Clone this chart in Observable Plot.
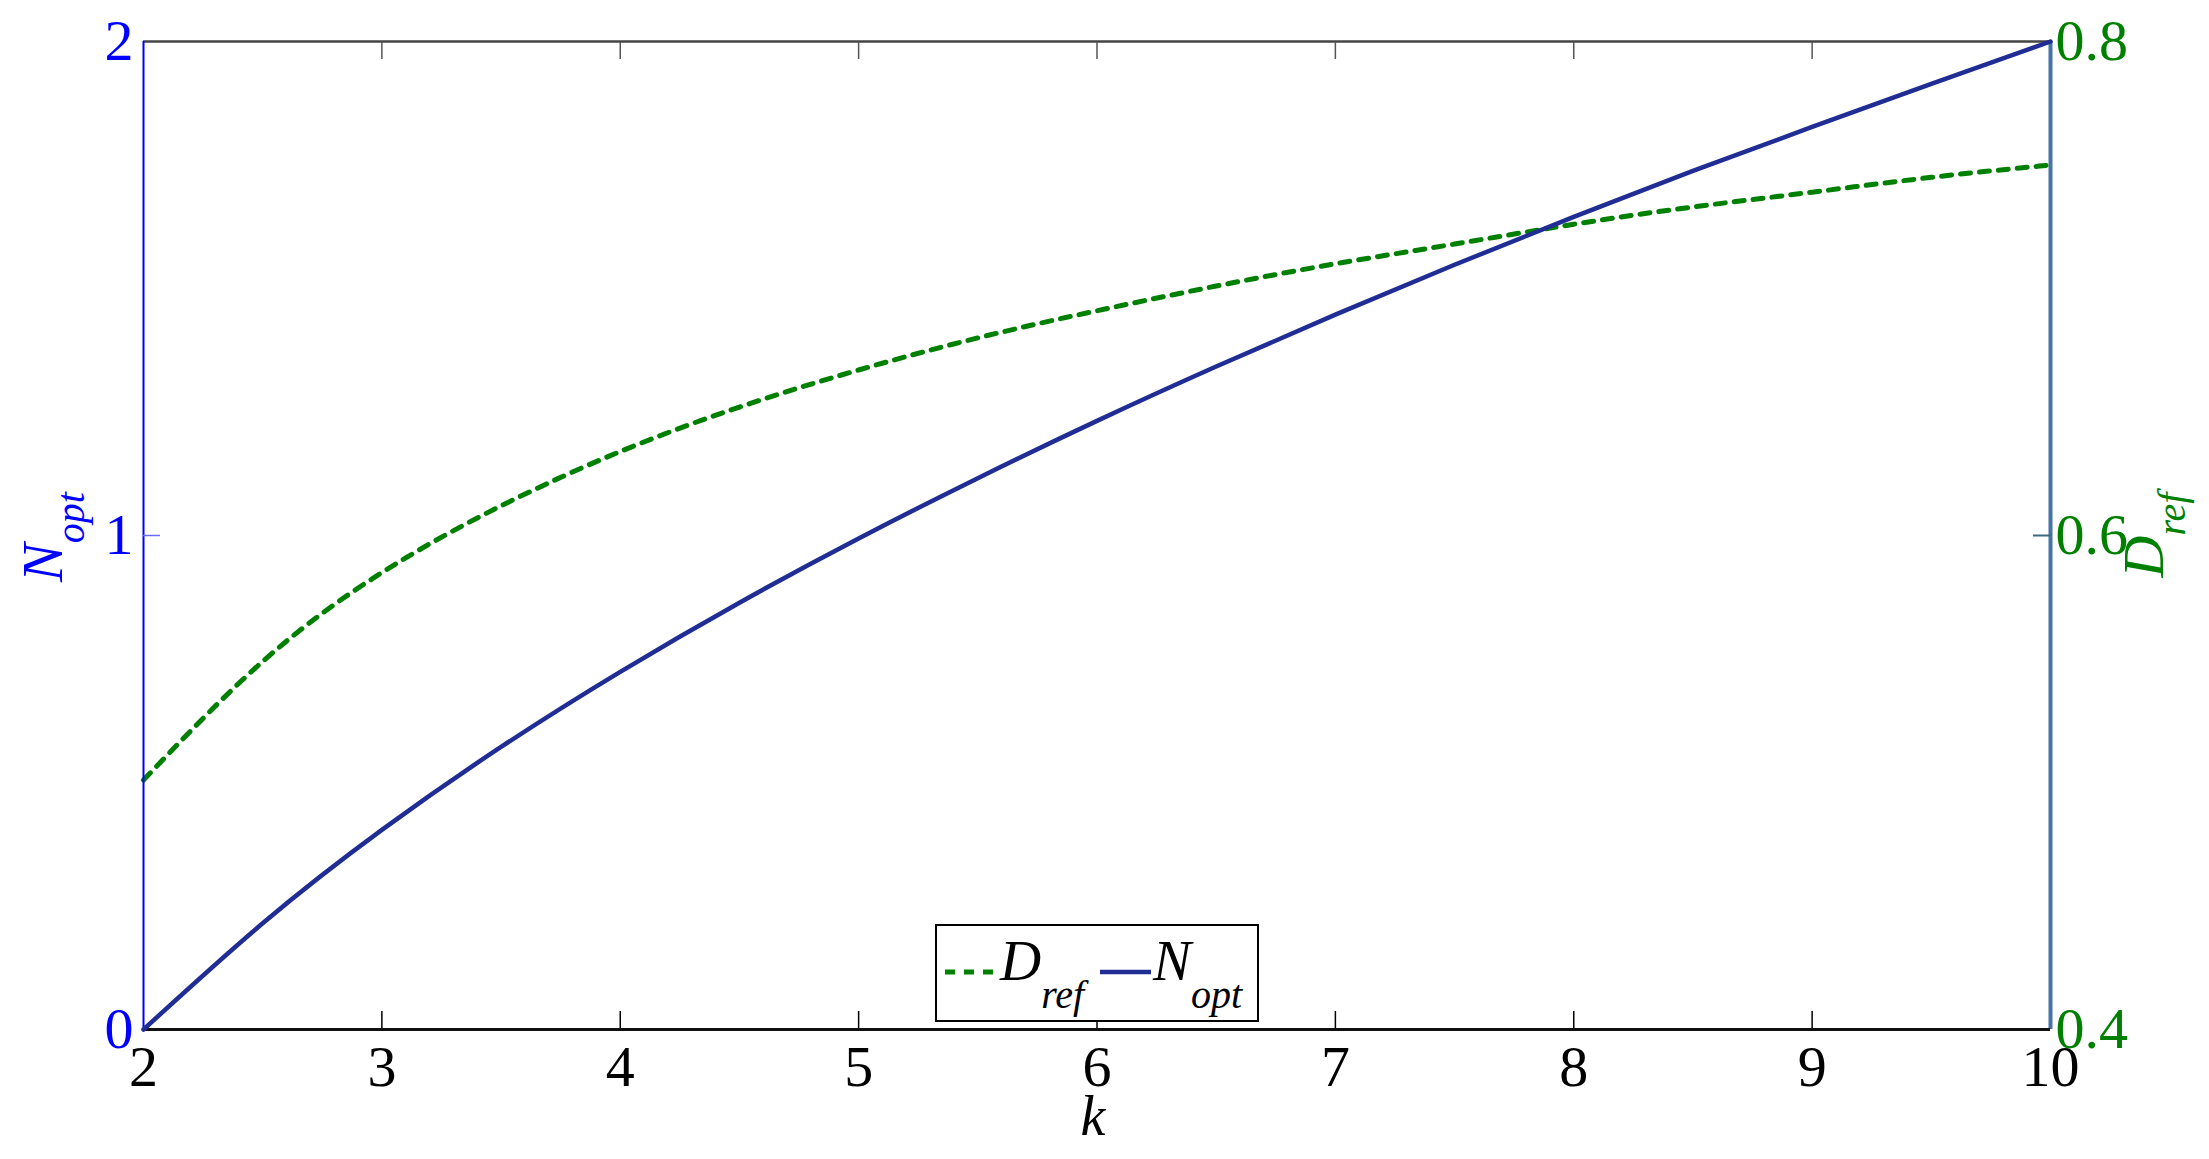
<!DOCTYPE html>
<html><head><meta charset="utf-8">
<script src="https://cdn.jsdelivr.net/npm/d3@7"></script>
<script src="https://cdn.jsdelivr.net/npm/@observablehq/plot@0.6"></script>
<style>
body{margin:0;background:#fff;}
#chart{position:relative;width:2209px;height:1159px;background:#fff;}
#chart svg{position:absolute;left:0;top:0;}
</style></head><body><div id="chart"></div>
<script>
// ---- data ----
const kValues = [2, 2.5, 3, 3.5, 4, 4.5, 5, 5.5, 6, 6.5, 7, 7.5, 8, 8.5, 9, 9.5, 10];
const Nopt    = [0, 0.215, 0.404, 0.572, 0.724, 0.864, 0.994, 1.116, 1.232, 1.342, 1.447, 1.548, 1.645, 1.738, 1.827, 1.914, 2.0];
const Dref    = [0.501, 0.549, 0.585, 0.612, 0.634, 0.652, 0.667, 0.680, 0.691, 0.701, 0.710, 0.718, 0.726, 0.733, 0.739, 0.745, 0.750];
const xTicks = [2, 3, 4, 5, 6, 7, 8, 9, 10];
const nTicks = [0, 1, 2];
const dTicks = [0.4, 0.6, 0.8];

const W = 2209, H = 1159;
const M = {marginLeft: 143, marginRight: 159, marginTop: 41, marginBottom: 130};
const font = "'Liberation Serif', 'Times New Roman', serif";
const green = "#008000", navy = "#1f2d94", blue = "#0000ff";

const nData = kValues.map((k, i) => ({k, N: Nopt[i]}));
const dData = kValues.map((k, i) => ({k, D: Dref[i]}));
const inner = xTicks.slice(1, -1);

const baseStyle = {background: "transparent", fontFamily: font, fontSize: "58px", overflow: "visible"};

// right-axis plot (D_ref)
const dPlot = Plot.plot({
  width: W, height: H, ...M,
  style: baseStyle,
  x: {domain: [2, 10], axis: null},
  y: {domain: [0.4, 0.8]},
  marks: [
    Plot.ruleX([10], {stroke: "#4674a8", strokeWidth: 4}),
    Plot.axisY([0.6], {anchor: "right", tickSize: -18, tickFormat: () => "", stroke: "#3a6b80", strokeWidth: 2, label: null}),
    Plot.axisY(dTicks, {anchor: "right", tickSize: 0, tickPadding: 5, fill: green, tickFormat: d => d.toFixed(1), label: null}),
    Plot.line(dData, {x: "k", y: "D", stroke: green, strokeWidth: 5, strokeDasharray: "10,9", curve: "natural"})
  ]
});

// left-axis plot (N_opt)
const nPlot = Plot.plot({
  width: W, height: H, ...M,
  style: baseStyle,
  x: {domain: [2, 10]},
  y: {domain: [0, 2]},
  marks: [
    Plot.ruleY([2], {stroke: "#444", strokeWidth: 2.5}),
    Plot.ruleX([2], {stroke: blue, strokeWidth: 2}),
    Plot.axisX(inner, {anchor: "bottom", tickSize: -18, tickFormat: () => "", stroke: "#000", strokeWidth: 1.5, label: null}),
    Plot.axisX(inner, {anchor: "top", tickSize: -17, tickFormat: () => "", stroke: "#555", strokeWidth: 1.5, label: null}),
    Plot.axisX(xTicks, {anchor: "bottom", tickSize: 0, tickPadding: 15, fill: "#000", tickFormat: d => String(d), label: null}),
    Plot.axisY([1], {anchor: "left", tickSize: -17, tickFormat: () => "", stroke: "#6a6aff", strokeWidth: 1.5, label: null}),
    Plot.axisY(nTicks, {anchor: "left", tickSize: 0, tickPadding: 10, fill: blue, tickFormat: d => String(d), label: null}),
    Plot.ruleY([0], {stroke: "#111", strokeWidth: 3}),
    Plot.line(nData, {x: "k", y: "N", stroke: navy, strokeWidth: 4.5, curve: "natural"})
  ]
});

const chart = document.getElementById("chart");
chart.appendChild(dPlot);
chart.appendChild(nPlot);

// axis titles and legend
const svg = d3.select(chart).append("svg")
  .attr("width", W).attr("height", H)
  .style("font-family", font).style("overflow", "visible");

function subText(g, x, y, main, sub, color, size, subSize, subDy, transform) {
  const t = g.append("text")
    .attr("fill", color).attr("font-style", "italic").attr("font-size", size);
  if (transform) t.attr("transform", transform).attr("text-anchor", "middle");
  else t.attr("x", x).attr("y", y);
  t.append("tspan").text(main);
  t.append("tspan").attr("font-size", subSize).attr("dy", subDy).text(sub);
  return t;
}

subText(svg, 0, 0, "N", "opt", blue, 58, 40, 22, "translate(62,537) rotate(-90)");
subText(svg, 0, 0, "D", "ref", green, 58, 40, 22, "translate(2163,535) rotate(-90)");

svg.append("text").attr("x", 1093).attr("y", 1135).attr("text-anchor", "middle")
  .attr("font-style", "italic").attr("font-size", 56).attr("fill", "#000").text("k");

// legend
const lg = svg.append("g");
lg.append("rect").attr("x", 936).attr("y", 925).attr("width", 322).attr("height", 96)
  .attr("fill", "#fff").attr("stroke", "#000").attr("stroke-width", 2);
lg.append("line").attr("x1", 945).attr("x2", 998).attr("y1", 972).attr("y2", 972)
  .attr("stroke", green).attr("stroke-width", 5).attr("stroke-dasharray", "10,9");
subText(lg, 1000, 980, "D", "ref", "#000", 57, 40, 28);
lg.append("line").attr("x1", 1100).attr("x2", 1151).attr("y1", 972).attr("y2", 972)
  .attr("stroke", navy).attr("stroke-width", 4.5);
subText(lg, 1153, 980, "N", "opt", "#000", 57, 40, 28);
</script></body></html>
